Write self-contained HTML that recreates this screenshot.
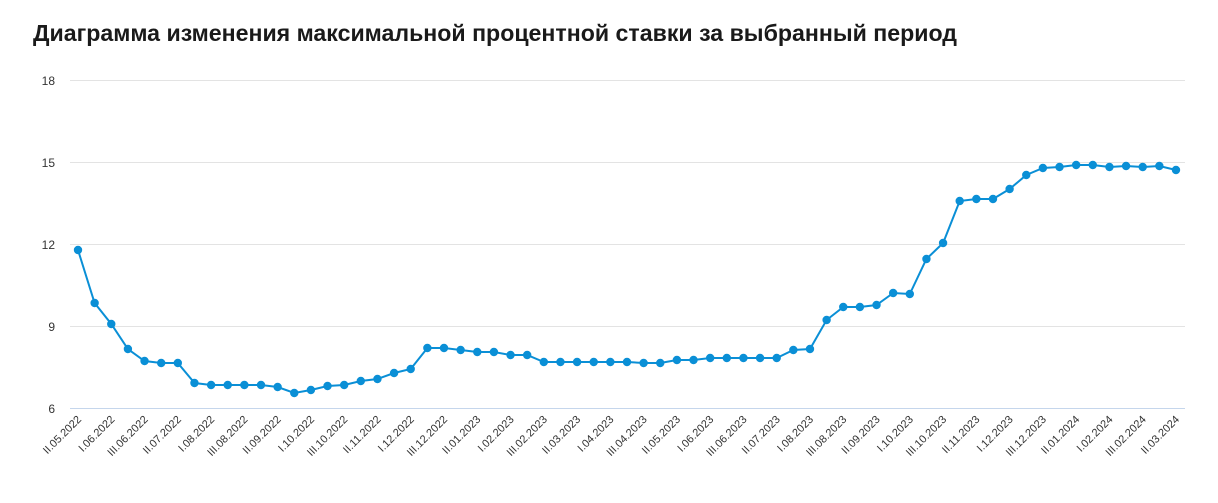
<!DOCTYPE html>
<html><head><meta charset="utf-8"><style>
body{margin:0;background:#fff;width:1218px;height:498px;overflow:hidden;font-family:"Liberation Sans",sans-serif}
</style></head><body>
<svg width="1218" height="498" xmlns="http://www.w3.org/2000/svg" font-family="Liberation Sans, sans-serif">
<text x="33" y="41" font-size="23" font-weight="bold" fill="#1a1a1a" textLength="924" lengthAdjust="spacingAndGlyphs">Диаграмма изменения максимальной процентной ставки за выбранный период</text>
<g stroke="#e3e3e3" stroke-width="1">
<line x1="70" x2="1185" y1="80.5" y2="80.5"/><line x1="70" x2="1185" y1="162.5" y2="162.5"/>
<line x1="70" x2="1185" y1="244.5" y2="244.5"/><line x1="70" x2="1185" y1="326.5" y2="326.5"/>
</g>
<line x1="70" x2="1185" y1="408.5" y2="408.5" stroke="#c5d6ec"/>
<g font-size="12" fill="#333" text-anchor="end">
<text x="55" y="85">18</text><text x="55" y="167">15</text><text x="55" y="249">12</text><text x="55" y="331">9</text><text x="55" y="413">6</text>
</g>
<g id="lbl" font-size="11" fill="#333" text-anchor="end"></g>
<polyline id="ln" fill="none" stroke="#0a8fd6" stroke-width="2"/>
<g id="pts" fill="#0a8fd6"></g>
</svg>
<script>
var ys=[250,303,324,349,361,363,363,383,385,385,385,385,387,393,390,386,385,381,379,373,369,348,348,350,352,352,355,355,362,362,362,362,362,362,363,363,360,360,358,358,358,358,358,350,349,320,307,307,305,293,294,259,243,201,199,199,189,175,168,167,165,165,167,166,167,166,170];
var labs=["II.05.2022","I.06.2022","III.06.2022","II.07.2022","I.08.2022","III.08.2022","II.09.2022","I.10.2022","III.10.2022","II.11.2022","I.12.2022","III.12.2022","II.01.2023","I.02.2023","III.02.2023","II.03.2023","I.04.2023","III.04.2023","II.05.2023","I.06.2023","III.06.2023","II.07.2023","I.08.2023","III.08.2023","II.09.2023","I.10.2023","III.10.2023","II.11.2023","I.12.2023","III.12.2023","II.01.2024","I.02.2024","III.02.2024","II.03.2024"];
var ns="http://www.w3.org/2000/svg",pts=[],g=document.getElementById('pts');
ys.forEach(function(y,i){var x=78+i*16.636;pts.push(x.toFixed(1)+","+y);
var c=document.createElementNS(ns,'circle');c.setAttribute('cx',x);c.setAttribute('cy',y);c.setAttribute('r',4.2);g.appendChild(c);});
document.getElementById('ln').setAttribute('points',pts.join(' '));
var l=document.getElementById('lbl');
labs.forEach(function(t,i){var x=78+i*2*16.636+4;var e=document.createElementNS(ns,'text');
e.setAttribute('transform','translate('+x+',420) rotate(-45)');e.textContent=t;l.appendChild(e);});
</script>
</body></html>
